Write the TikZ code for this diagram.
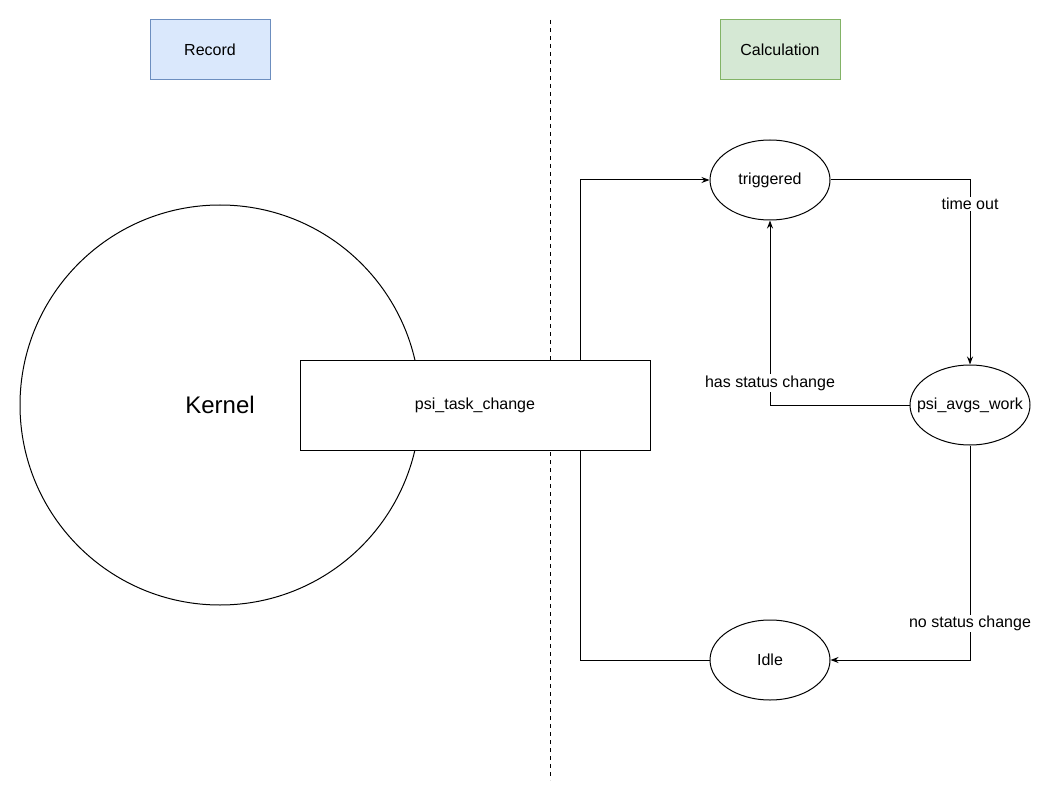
\documentclass[tikz,border=0pt]{standalone}
\usepackage{fontspec}
\setmainfont{Liberation Sans}
\usepackage{xcolor}
\usepackage{tikz}
\usetikzlibrary{shapes.geometric,arrows.meta,calc}

\definecolor{recfill}{HTML}{DAE8FC}
\definecolor{recline}{HTML}{6C8EBF}
\definecolor{calfill}{HTML}{D5E8D4}
\definecolor{calline}{HTML}{82B366}

\begin{document}
\begin{tikzpicture}[x=0.75pt,y=-0.75pt,line width=0.75pt,
    font=\fontsize{12}{14}\selectfont,
    title/.style={rectangle,draw,minimum width=90pt,minimum height=45pt},
    state/.style={ellipse,draw,fill=white,minimum width=90pt,minimum height=60pt,inner xsep=-9pt,inner ysep=0pt},
    edgelabel/.style={fill=white,inner sep=1pt},
    arr/.style={-{Stealth[length=6pt,width=4.5pt]}}]
    \useasboundingbox (0,0) rectangle (1052,802);
    \node [title,fill=recfill,draw=recline] (record) at (210,50) {Record};
    \node [title,fill=calfill,draw=calline] (calc) at (780,50) {Calculation};
    % kernel and the split line
    \node [circle,draw,minimum size=300pt,inner sep=0pt,font=\fontsize{18}{20}\selectfont] (kernel) at (220,405) {Kernel};
    \coordinate (top) at (550,20);
    \coordinate (bottom) at (550,780);
    \draw [dashed] (top) -- (bottom);
    \node [rectangle,draw,fill=white,minimum width=262.5pt,minimum height=67.5pt] (ptc) at (475,405) {psi\_task\_change};
    % states
    \node [state] (trig) at (770,180) {triggered};
    \node [state] (avg) at (970,405) {psi\_avgs\_work};
    \node [state] (idle) at (770,660) {Idle};
    % transitions
    \draw [arr] ($(ptc.north west)!0.8!(ptc.north east)$) |- (trig.west);
    \draw [arr] (trig.east) -| node [edgelabel,pos=0.565] {time out} (avg.north);
    \draw [arr] (avg.west) -| node [edgelabel,pos=0.56] {has status change} (trig.south);
    \draw [arr] (avg.south) |- node [edgelabel,pos=0.415] {no status change} (idle.east);
    \draw (idle.west) -| ($(ptc.south west)!0.8!(ptc.south east)$);
\end{tikzpicture}
\end{document}
